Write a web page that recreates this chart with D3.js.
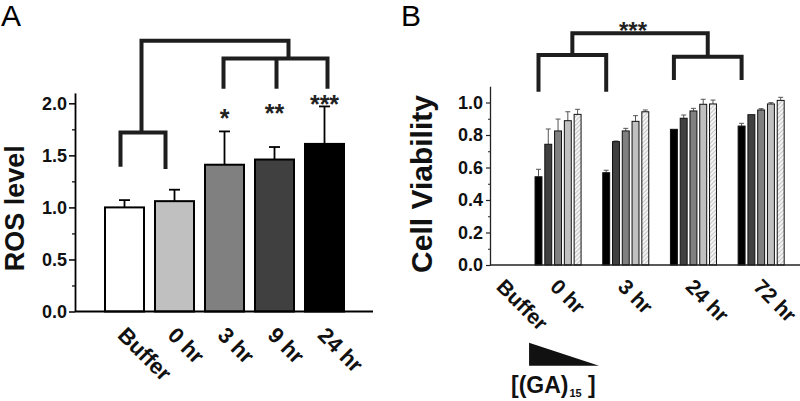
<!DOCTYPE html>
<html>
<head>
<meta charset="utf-8">
<script src="https://cdn.jsdelivr.net/npm/d3@7"></script>
<style>
  html, body { margin: 0; padding: 0; background: #fff; }
  svg { display: block; font-family: "Liberation Sans", Arial, sans-serif; }
</style>
</head>
<body>
<svg id="chart" width="800" height="401"></svg>
<script>
// ---------------- DATA ----------------
// Panel A
const categoriesA = ["Buffer", "0 hr", "3 hr", "9 hr", "24 hr"];
const rosMean = [1.00, 1.06, 1.41, 1.46, 1.61];
const rosErr = [0.07, 0.11, 0.32, 0.12, 0.36];
const ticksA = [0, 0.5, 1.0, 1.5, 2.0];
const minorTicksA = [0.25, 0.75, 1.25, 1.75];
const starCatsA = ["3 hr", "9 hr", "24 hr"];
const starTextA = ["*", "**", "***"];
const starLevelA = [1.77, 1.82, 1.91];

// Panel B
const groupsB = ["Buffer", "0 hr", "3 hr", "24 hr", "72 hr"];
const barGroupsB = ["0 hr", "3 hr", "24 hr", "72 hr"];
const viab0hr = [0.543, 0.743, 0.825, 0.888, 0.927];
const err0hr = [0.046, 0.094, 0.073, 0.055, 0.031];
const viab3hr = [0.568, 0.759, 0.825, 0.884, 0.943];
const err3hr = [0.015, 0.004, 0.016, 0.035, 0.011];
const viab24hr = [0.835, 0.903, 0.948, 0.989, 0.991];
const err24hr = [0.000, 0.020, 0.016, 0.031, 0.024];
const viab72hr = [0.855, 0.925, 0.954, 0.991, 1.013];
const err72hr = [0.017, 0.000, 0.008, 0.008, 0.019];
const ticksB = [0, 0.2, 0.4, 0.6, 0.8, 1.0];
const minorTicksB = [0.1, 0.3, 0.5, 0.7, 0.9];
const concLevels = [0, 1, 2, 3, 4];

// ---------------- STYLE ----------------
const fillsA = ["#ffffff", "#c0c0c0", "#808080", "#404040", "#000000"];
const fillsB = ["#000000", "#404040", "#808080", "#c0c0c0", "url(#hatch)"];
const bracketColor = "#1e1e1e";

const svg = d3.select("#chart");
svg.append("rect").attr("width", 800).attr("height", 401).attr("fill", "#fff");

const defs = svg.append("defs");
const pat = defs.append("pattern").attr("id", "hatch").attr("patternUnits", "userSpaceOnUse")
  .attr("width", 3).attr("height", 3).attr("patternTransform", "rotate(45)");
pat.append("rect").attr("width", 3).attr("height", 3).attr("fill", "#f4f4f4");
pat.append("line").attr("x1", 0).attr("y1", 0).attr("x2", 0).attr("y2", 3)
  .attr("stroke", "#a8a8a8").attr("stroke-width", 1.2);

// ================= PANEL A =================
const gA = svg.append("g");
const xA = d3.scaleBand().domain(categoriesA).range([99.5, 349.5]).paddingInner(0.22).paddingOuter(0.11);
const yA = d3.scaleLinear().domain([0, 2.1]).range([311.5, 92.9]);
const bwA = xA.bandwidth();

gA.append("text").text("A").attr("x", 1).attr("y", 26).attr("font-size", 30);

// y axis
const yAxisA = gA.append("g").attr("transform", "translate(75,0)")
  .call(d3.axisLeft(yA).tickValues(ticksA).tickSize(6).tickSizeOuter(0).tickPadding(2)
    .tickFormat(d3.format(".1f")));
yAxisA.select(".domain").attr("stroke-width", 1.8);
yAxisA.selectAll(".tick line").attr("stroke-width", 1.5);
yAxisA.selectAll(".tick text").attr("font-size", 18).attr("font-weight", "bold")
  .attr("font-family", "Liberation Sans, Arial, sans-serif").attr("fill", "#111");
const yMinorA = gA.append("g").attr("transform", "translate(75,0)")
  .call(d3.axisLeft(yA).tickValues(minorTicksA).tickSize(3).tickFormat(""));
yMinorA.select(".domain").remove();
yMinorA.selectAll(".tick line").attr("stroke-width", 1.2);

gA.append("text").text("ROS level")
  .attr("transform", `translate(24,${(yA(0) + yA(2.1)) / 2 + 6}) rotate(-90)`)
  .attr("text-anchor", "middle").attr("font-size", 27).attr("font-weight", "bold").attr("fill", "#111");

// bars
const dataA = categoriesA.map((c, i) => ({ c, v: rosMean[i], e: rosErr[i], f: fillsA[i] }));
const errA = gA.append("g").attr("stroke", "#000").attr("stroke-width", 1.8);
dataA.forEach(d => {
  const cx = xA(d.c) + bwA / 2;
  errA.append("line").attr("x1", cx).attr("x2", cx).attr("y1", yA(d.v)).attr("y2", yA(d.v + d.e));
  errA.append("line").attr("x1", cx - 5.5).attr("x2", cx + 5.5).attr("y1", yA(d.v + d.e)).attr("y2", yA(d.v + d.e));
});
gA.append("g").selectAll("rect").data(dataA).join("rect")
  .attr("x", d => xA(d.c)).attr("width", bwA)
  .attr("y", d => yA(d.v)).attr("height", d => yA(0) - yA(d.v))
  .attr("fill", d => d.f).attr("stroke", "#000").attr("stroke-width", 2);

// x axis line
gA.append("line").attr("x1", 75).attr("x2", 373).attr("y1", yA(0)).attr("y2", yA(0))
  .attr("stroke", "#000").attr("stroke-width", 2);

// x labels
gA.append("g").selectAll("text").data(categoriesA).join("text")
  .attr("transform", d => `translate(${xA(d) + bwA / 2 - 8},${yA(0) + 25}) rotate(45)`)
  .attr("font-size", 22).attr("font-weight", "bold").attr("fill", "#111").text(d => d);

// stars
gA.append("g").selectAll("text").data(starCatsA).join("text")
  .attr("x", d => xA(d) + bwA / 2).attr("y", (d, i) => yA(starLevelA[i]))
  .attr("text-anchor", "middle").attr("font-size", 25).attr("font-weight", "bold").attr("fill", "#222")
  .text((d, i) => starTextA[i]);

// brackets A
const cA = c => xA(c) + bwA / 2;
const brA = gA.append("g").attr("fill", "none").attr("stroke", bracketColor).attr("stroke-width", 4)
  .attr("stroke-linejoin", "miter").attr("stroke-linecap", "butt");
const lb1 = cA("Buffer") - 4, lb2 = cA("0 hr") - 9;
brA.append("path").attr("d",
  `M${lb1},${yA(1.39)} V${yA(1.72)} H${lb2} V${yA(1.37)}`);
const rb1 = cA("3 hr") - 1, rb2 = cA("9 hr") + 2, rb3 = cA("24 hr") + 3;
brA.append("path").attr("d",
  `M${rb1},${yA(2.14)} V${yA(2.43)} H${rb3} V${yA(2.14)}`);
brA.append("path").attr("d", `M${rb2},${yA(2.43)} V${yA(2.14)}`);
const stemL = (lb1 + lb2) / 2 - 1.5, stemR = rb2 + 12;
brA.append("path").attr("d",
  `M${stemL},${yA(1.72)} V${yA(2.60)} H${stemR} V${yA(2.43)}`);

// ================= PANEL B =================
const gB = svg.append("g");
const xB = d3.scaleBand().domain(groupsB).range([456.5, 795]).paddingInner(0.32).paddingOuter(0.16);
const bwB = xB.bandwidth();
const xInner = d3.scaleBand().domain(concLevels).range([0, bwB]).paddingInner(0.29).paddingOuter(0);
const yB = d3.scaleLinear().domain([0, 1.1]).range([265, 86.25]);

gB.append("text").text("B").attr("x", 401).attr("y", 26).attr("font-size", 30);

const yAxisB = gB.append("g").attr("transform", "translate(490,0)")
  .call(d3.axisLeft(yB).tickValues(ticksB).tickSize(4).tickSizeOuter(0).tickPadding(3)
    .tickFormat(d3.format(".1f")));
yAxisB.select(".domain").attr("stroke-width", 1.3).attr("stroke", "#222");
yAxisB.selectAll(".tick line").attr("stroke-width", 1.2).attr("stroke", "#222");
yAxisB.selectAll(".tick text").attr("font-size", 18).attr("font-weight", "bold")
  .attr("font-family", "Liberation Sans, Arial, sans-serif").attr("fill", "#111");
const yMinorB = gB.append("g").attr("transform", "translate(490,0)")
  .call(d3.axisLeft(yB).tickValues(minorTicksB).tickSize(2).tickFormat(""));
yMinorB.select(".domain").remove();
yMinorB.selectAll(".tick line").attr("stroke-width", 1).attr("stroke", "#222");

gB.append("text").text("Cell Viability")
  .attr("transform", `translate(432,184) rotate(-90)`)
  .attr("text-anchor", "middle").attr("font-size", 30).attr("font-weight", "bold").attr("fill", "#111");

const seriesB = { "0 hr": [viab0hr, err0hr], "3 hr": [viab3hr, err3hr], "24 hr": [viab24hr, err24hr], "72 hr": [viab72hr, err72hr] };
const barsB = [];
barGroupsB.forEach(g => {
  concLevels.forEach(k => barsB.push({ g, k, v: seriesB[g][0][k], e: seriesB[g][1][k] }));
});
const bwI = xInner.bandwidth();
const errB = gB.append("g").attr("stroke", "#555").attr("stroke-width", 1);
barsB.forEach(d => {
  if (d.e <= 0) return;
  const cx = xB(d.g) + xInner(d.k) + bwI / 2;
  errB.append("line").attr("x1", cx).attr("x2", cx).attr("y1", yB(d.v)).attr("y2", yB(d.v + d.e));
  errB.append("line").attr("x1", cx - 2.5).attr("x2", cx + 2.5).attr("y1", yB(d.v + d.e)).attr("y2", yB(d.v + d.e));
});
gB.append("g").selectAll("rect").data(barsB).join("rect")
  .attr("x", d => xB(d.g) + xInner(d.k)).attr("width", bwI)
  .attr("y", d => yB(d.v)).attr("height", d => yB(0) - yB(d.v))
  .attr("fill", d => fillsB[d.k]).attr("stroke", "#111").attr("stroke-width", 1);

gB.append("line").attr("x1", 490).attr("x2", 800).attr("y1", yB(0)).attr("y2", yB(0))
  .attr("stroke", "#222").attr("stroke-width", 1.5);

gB.append("g").selectAll("text").data(groupsB).join("text")
  .attr("transform", d => `translate(${xB(d) + bwB / 2 - 9 + (d === "Buffer" ? 14 : 0)},${yB(0) + 23}) rotate(45)`)
  .attr("font-size", 21).attr("font-weight", "bold").attr("fill", "#111").text(d => d);

// brackets B
const blk = g => xB(g) + xInner(0) + bwI / 2;
const brB = gB.append("g").attr("fill", "none").attr("stroke", bracketColor).attr("stroke-width", 4)
  .attr("stroke-linejoin", "miter");
const bl1 = blk("0 hr"), bl2 = blk("3 hr"), br1 = blk("24 hr"), br2 = blk("72 hr");
brB.append("path").attr("d", `M${bl1},${yB(1.066)} V${yB(1.292)} H${bl2} V${yB(1.066)}`);
brB.append("path").attr("d", `M${br1},${yB(1.138)} V${yB(1.282)} H${br2} V${yB(1.138)}`);
const sL = (bl1 + bl2) / 2, sR = (br1 + br2) / 2;
brB.append("path").attr("d", `M${sL},${yB(1.292)} V${yB(1.426)} H${sR} V${yB(1.282)}`);
gB.append("text").text("***").attr("x", (sL + sR) / 2 - 7).attr("y", yB(1.39))
  .attr("text-anchor", "middle").attr("font-size", 24).attr("font-weight", "bold").attr("fill", "#222");

// concentration wedge and label
const wx = xB("0 hr") - 6, wy = 342.7;
gB.append("path").attr("d", `M${wx},${wy} L${wx},${wy + 23} L${wx + 70},${wy + 23} Z`).attr("fill", "#111");
const lab = gB.append("text").attr("x", 511).attr("y", 393).attr("font-size", 23).attr("font-weight", "bold").attr("fill", "#111");
lab.append("tspan").text("[(GA)");
lab.append("tspan").text("15").attr("font-size", 11).attr("dy", 4).attr("dx", 1);
lab.append("tspan").text(" ]").attr("dy", -4);
</script>
</body>
</html>
